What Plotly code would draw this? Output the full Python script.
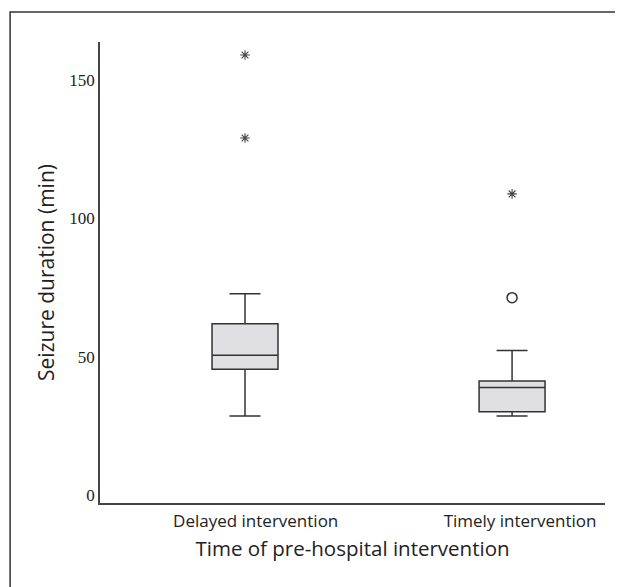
import plotly.graph_objects as go

categories = ["Delayed intervention", "Timely intervention"]
positions = [0, 1]
q1 = [45.4, 30.1]
median = [50.5, 38.8]
q3 = [61.9, 41.2]
lower_whisker = [28.5, 28.5]
upper_whisker = [72.7, 52.2]

# outliers
extreme_x = [0, 0, 1]
extreme_y = [159, 129, 108.8]
mild_x = [1]
mild_y = [71.3]

y_ticks = [0, 50, 100, 150]

LINE = "#333333"
SANS = "Open Sans"

fig = go.Figure()
fig.add_trace(go.Box(
    x=positions, q1=q1, median=median, q3=q3,
    lowerfence=lower_whisker, upperfence=upper_whisker,
    width=0.247, whiskerwidth=0.47,
    fillcolor="#e0e0e2", line=dict(color=LINE, width=1.5),
    boxpoints=False, showlegend=False, hoverinfo="skip",
))
fig.add_trace(go.Scatter(
    x=extreme_x, y=extreme_y, mode="markers",
    marker=dict(symbol="asterisk", size=8, line=dict(color="#444444", width=1.1)),
    showlegend=False,
))
fig.add_trace(go.Scatter(
    x=mild_x, y=mild_y, mode="markers",
    marker=dict(symbol="circle-open", size=10, color=LINE, line=dict(color=LINE, width=1.5)),
    showlegend=False,
))

fig.update_layout(
    width=615, height=579,
    margin=dict(l=92, r=18, t=34, b=84),
    paper_bgcolor="white", plot_bgcolor="white",
    xaxis=dict(
        range=[-0.543, 1.348], tickmode="array",
        tickvals=[0.04, 1.03], ticktext=categories,
        showline=True, linecolor="#444444", linewidth=1.5,
        showgrid=False, zeroline=False, ticks="", ticklabelstandoff=2,
        tickfont=dict(family=SANS, size=17, color="#222222"),
        title=dict(text="Time of pre-hospital intervention", standoff=10,
                   font=dict(family=SANS, size=20.5, color="#222222")),
    ),
    yaxis=dict(
        range=[-2.9, 163.7], tickvals=y_ticks,
        showline=True, linecolor="#444444", linewidth=1.5,
        showgrid=False, zeroline=False, ticks="",
        tickfont=dict(family="Liberation Serif", size=17, color="#222222"),
        title=dict(text="Seizure duration (min)", standoff=9,
                   font=dict(family=SANS, size=21, color="#222222")),
    ),
    shapes=[dict(type="rect", xref="paper", yref="paper",
                 x0=-0.178, x1=1.06, y0=-0.2, y1=1.065,
                 line=dict(color="#333333", width=1.5), layer="below")],
)

fig.write_html("out.html")
